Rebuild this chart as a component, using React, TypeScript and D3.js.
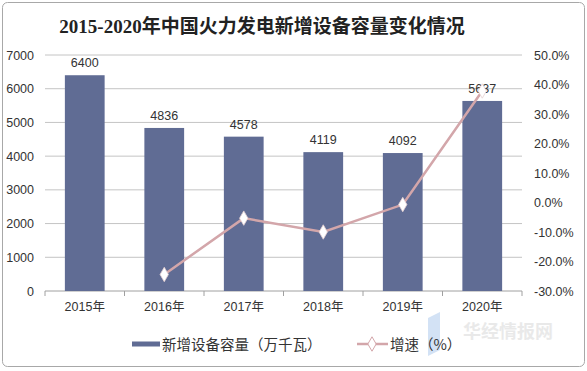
import React from "react";
import * as d3 from "d3";

const years = ["2015年", "2016年", "2017年", "2018年", "2019年", "2020年"];
const capacity = [6400, 4836, 4578, 4119, 4092, 5637];
// growth rate, % (no value for 2015)
const growth = [null, -24.4, -5.3, -10.0, -0.7, 37.8];
const leftTicks = [0, 1000, 2000, 3000, 4000, 5000, 6000, 7000];
const rightTicks = [-30, -20, -10, 0, 10, 20, 30, 40, 50];

const W = 587;
const H = 371;
const plot = { left: 45, right: 522, top: 55, bottom: 291 };

const barColor = "#606c94";
const lineColor = "#d3a6aa";
const gridColor = "#c4c4c4";
const textColor = "#333";
const numFont = "Arial, 'Liberation Sans', sans-serif";
const cjkFont = "'Liberation Sans', 'Noto Sans CJK SC', sans-serif";

const App = () => {
  const x = d3
    .scaleBand<string>()
    .domain(years)
    .range([plot.left, plot.right])
    .paddingInner(0.5)
    .paddingOuter(0.25);
  const yLeft = d3.scaleLinear().domain([0, 7000]).range([plot.bottom, plot.top]);
  const yRight = d3.scaleLinear().domain([-30, 50]).range([plot.bottom, plot.top]);
  const step = x.step();
  const cx = (d: string) => (x(d) as number) + x.bandwidth() / 2;

  const points = years
    .map((y, i) => ({ y, v: growth[i] }))
    .filter((d) => d.v !== null) as { y: string; v: number }[];

  const line = d3
    .line<{ y: string; v: number }>()
    .x((d) => cx(d.y))
    .y((d) => yRight(d.v));

  const diamond = d3.symbol().type(d3.symbolDiamond).size(60)();

  return (
    <svg
      width={W}
      height={H}
      style={{ position: "absolute", left: 0, top: 0, background: "#fff" }}
    >
      <rect
        x={2.5}
        y={2.5}
        width={W - 5}
        height={H - 7}
        rx={5}
        fill="#fff"
        stroke="#a8a8a8"
      />

      <text
        x={262}
        y={33}
        textAnchor="middle"
        fontSize={19}
        fontWeight="bold"
        fill="#222"
        fontFamily="'Liberation Serif', 'Noto Sans CJK SC', serif"
      >
        2015-2020年中国火力发电新增设备容量变化情况
      </text>

      {/* gridlines */}
      {leftTicks.map((t) => (
        <line
          key={t}
          x1={plot.left}
          x2={plot.right}
          y1={yLeft(t)}
          y2={yLeft(t)}
          stroke={t === 0 ? "#a0a0a0" : gridColor}
        />
      ))}

      {/* x ticks */}
      {d3.range(years.length + 1).map((i) => (
        <line
          key={i}
          x1={plot.left + i * step}
          x2={plot.left + i * step}
          y1={plot.bottom}
          y2={plot.bottom + 5}
          stroke="#a0a0a0"
        />
      ))}

      {/* left axis labels */}
      {leftTicks.map((t) => (
        <text
          key={t}
          x={34}
          y={yLeft(t) + 4.5}
          textAnchor="end"
          fontSize={12.5}
          fill={textColor}
          fontFamily={numFont}
        >
          {t}
        </text>
      ))}

      {/* right axis labels */}
      {rightTicks.map((t) => (
        <text
          key={t}
          x={534}
          y={yRight(t) + 4.5}
          fontSize={12.5}
          fill={textColor}
          fontFamily={numFont}
        >
          {t.toFixed(1) + "%"}
        </text>
      ))}

      {/* watermark, drawn under the marks */}
      <g opacity={0.6}>
        <path d="M428,318 L440,312 L440,350 L428,356 Z" fill="#b6d0f0" />
        <text x={463} y={338} fontSize={18} fontWeight="bold" fill="#dcdcdc" fontFamily="'Noto Sans CJK SC', sans-serif">
          华经情报网
        </text>
      </g>

      {/* bars */}
      {years.map((y, i) => (
        <g key={y}>
          <rect
            x={x(y)}
            y={yLeft(capacity[i])}
            width={x.bandwidth()}
            height={plot.bottom - yLeft(capacity[i])}
            fill={barColor}
          />
          <text
            x={cx(y)}
            y={yLeft(capacity[i]) - 8}
            textAnchor="middle"
            fontSize={12.5}
            fill={textColor}
            fontFamily={numFont}
          >
            {capacity[i]}
          </text>
        </g>
      ))}

      {/* growth line */}
      <path d={line(points) as string} fill="none" stroke={lineColor} strokeWidth={2.5} />
      {points.map((d) => (
        <path
          key={d.y}
          d={diamond as string}
          transform={`translate(${cx(d.y)},${yRight(d.v)})`}
          fill="#fff"
          stroke="#e6d0d2"
          strokeWidth={0.8}
        />
      ))}

      {/* x labels */}
      {years.map((y) => (
        <text
          key={y}
          x={cx(y)}
          y={311}
          textAnchor="middle"
          fontSize={12.5}
          fill={textColor}
          fontFamily={cjkFont}
        >
          {y}
        </text>
      ))}

      {/* legend */}
      <rect x={132} y={341.5} width={28} height={5} fill={barColor} />
      <text x={162} y={349.5} fontSize={14.5} fill={textColor} fontFamily="'Noto Sans CJK SC', sans-serif">
        新增设备容量（万千瓦）
      </text>
      <line x1={357} x2={388} y1={344} y2={344} stroke={lineColor} strokeWidth={2.5} />
      <path d={diamond as string} transform="translate(372,344)" fill="#fff" stroke={lineColor} strokeWidth={1} />
      <text x={390} y={349.5} fontSize={14.5} fill={textColor} fontFamily="'Noto Sans CJK SC', sans-serif">
        增速（%）
      </text>
    </svg>
  );
};

export default App;
